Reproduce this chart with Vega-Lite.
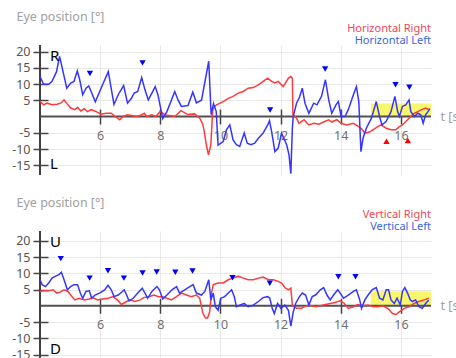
{
  "$schema": "https://vega.github.io/schema/vega-lite/v6.json",
  "background": "white",
  "padding": {"left": 11, "top": 10, "right": 0, "bottom": 0},
  "spacing": 19,
  "config": {
    "view": {"stroke": null},
    "font": "Noto Sans",
    "axis": {
      "labelFont": "Noto Sans",
      "titleFont": "Noto Sans",
      "labelFontSize": 12.5,
      "titleFontSize": 12.5,
      "titleFontWeight": "normal",
      "titleColor": "#a0a0a0",
      "tickColor": "#444444",
      "tickWidth": 1.5,
      "tickSize": 15,
      "domain": false,
      "grid": true,
      "gridColor": "#e9e9e9",
      "gridWidth": 1,
      "labelOverlap": false,
      "labelBound": false
    },
    "axisX": {"labelColor": "#707070", "labelPadding": 5, "labelFlush": false},
    "axisY": {"labelColor": "#555555", "labelPadding": 3},
    "title": {"offset": -36}
  },
  "datasets": {
    "hR": [
      {"t":4.0,"y":4.6},{"t":4.12,"y":3.6},{"t":4.24,"y":4.1},{"t":4.4,"y":3.6},{"t":4.57,"y":3.8},{"t":4.69,"y":4.1},{"t":4.8,"y":5.1},{"t":4.91,"y":3.8},{"t":5.02,"y":2.6},{"t":5.16,"y":2.1},{"t":5.25,"y":2.8},{"t":5.36,"y":1.7},{"t":5.47,"y":2.4},{"t":5.58,"y":1.5},{"t":5.7,"y":2.1},{"t":5.87,"y":1.5},{"t":6.03,"y":0.7},{"t":6.2,"y":1.0},{"t":6.37,"y":1.0},{"t":6.54,"y":-0.3},{"t":6.65,"y":-1.0},{"t":6.76,"y":0},{"t":6.91,"y":0.5},{"t":7.04,"y":0.3},{"t":7.21,"y":0},{"t":7.33,"y":0.3},{"t":7.47,"y":1.0},{"t":7.55,"y":0},{"t":7.72,"y":0.5},{"t":7.85,"y":0},{"t":8.0,"y":1.6},{"t":8.15,"y":0.5},{"t":8.36,"y":0.2},{"t":8.48,"y":0},{"t":8.69,"y":1.8},{"t":8.91,"y":0.6},{"t":9.14,"y":0.8},{"t":9.31,"y":-0.5},{"t":9.41,"y":-2.3},{"t":9.46,"y":-4.6},{"t":9.53,"y":-8.7},{"t":9.6,"y":-11.8},{"t":9.68,"y":-8.7},{"t":9.74,"y":1.5},{"t":9.76,"y":2.6},{"t":9.87,"y":3.6},{"t":10.09,"y":4.6},{"t":10.26,"y":5.6},{"t":10.42,"y":6.2},{"t":10.59,"y":7.2},{"t":10.76,"y":7.7},{"t":10.92,"y":8.7},{"t":11.09,"y":8.9},{"t":11.26,"y":9.7},{"t":11.42,"y":10.8},{"t":11.57,"y":11.8},{"t":11.7,"y":10.8},{"t":11.81,"y":10.3},{"t":11.92,"y":10.8},{"t":12.09,"y":9.2},{"t":12.26,"y":11.8},{"t":12.34,"y":12.3},{"t":12.39,"y":11.8},{"t":12.41,"y":0.5},{"t":12.53,"y":-0.5},{"t":12.61,"y":-2.1},{"t":12.78,"y":-1.0},{"t":12.94,"y":-2.6},{"t":13.1,"y":-2.1},{"t":13.27,"y":-2.4},{"t":13.43,"y":-1.7},{"t":13.6,"y":-1.0},{"t":13.7,"y":-1.7},{"t":13.87,"y":-1.0},{"t":14.01,"y":-2.1},{"t":14.2,"y":-2.6},{"t":14.42,"y":-2.1},{"t":14.58,"y":-3.0},{"t":14.69,"y":-3.8},{"t":14.8,"y":-5.1},{"t":14.96,"y":-4.8},{"t":15.07,"y":-4.1},{"t":15.23,"y":-3.1},{"t":15.34,"y":-2.6},{"t":15.51,"y":-3.6},{"t":15.67,"y":-4.1},{"t":15.83,"y":-4.1},{"t":15.95,"y":-3.1},{"t":16.05,"y":-2.6},{"t":16.22,"y":-1.0},{"t":16.33,"y":0},{"t":16.45,"y":1.0},{"t":16.56,"y":1.5},{"t":16.69,"y":2.1},{"t":16.82,"y":2.6},{"t":16.93,"y":2.1}
    ],
    "hL": [
      {"t":4.0,"y":12.3},{"t":4.12,"y":9.9},{"t":4.29,"y":9.9},{"t":4.4,"y":10.8},{"t":4.55,"y":13.8},{"t":4.65,"y":18.5},{"t":4.74,"y":14.9},{"t":4.89,"y":8.7},{"t":5.02,"y":10.3},{"t":5.13,"y":10.8},{"t":5.24,"y":14},{"t":5.32,"y":11.3},{"t":5.42,"y":6.7},{"t":5.53,"y":8.7},{"t":5.62,"y":9.4},{"t":5.7,"y":7.7},{"t":5.84,"y":4.5},{"t":6.03,"y":8.7},{"t":6.27,"y":13.8},{"t":6.46,"y":3.7},{"t":6.6,"y":6.7},{"t":6.78,"y":9.5},{"t":6.91,"y":4.1},{"t":7.04,"y":5.6},{"t":7.13,"y":7.2},{"t":7.25,"y":7.7},{"t":7.38,"y":12},{"t":7.49,"y":8.2},{"t":7.6,"y":5.1},{"t":7.72,"y":7.2},{"t":7.83,"y":9.2},{"t":7.92,"y":6.7},{"t":8.03,"y":1.7},{"t":8.08,"y":-0.6},{"t":8.22,"y":1.5},{"t":8.48,"y":7.7},{"t":8.59,"y":5.1},{"t":8.7,"y":3.1},{"t":8.92,"y":3.4},{"t":9.08,"y":7.5},{"t":9.2,"y":4.2},{"t":9.37,"y":5},{"t":9.61,"y":17},{"t":9.69,"y":0.6},{"t":9.77,"y":4},{"t":9.86,"y":1.5},{"t":9.92,"y":-8.8},{"t":10.09,"y":-7.7},{"t":10.2,"y":-4.1},{"t":10.31,"y":-2.6},{"t":10.42,"y":-7.2},{"t":10.53,"y":-8.7},{"t":10.64,"y":-9.2},{"t":10.79,"y":-5.1},{"t":10.89,"y":-8.2},{"t":11.01,"y":-8.7},{"t":11.14,"y":-8.2},{"t":11.26,"y":-6.7},{"t":11.42,"y":-5.1},{"t":11.57,"y":-2.6},{"t":11.63,"y":-1.3},{"t":11.7,"y":-4.6},{"t":11.81,"y":-10.8},{"t":11.92,"y":-9.7},{"t":12.03,"y":-5.1},{"t":12.2,"y":-8.7},{"t":12.28,"y":-11.8},{"t":12.34,"y":-17.6},{"t":12.39,"y":-3.6},{"t":12.42,"y":0},{"t":12.53,"y":4.1},{"t":12.63,"y":6},{"t":12.72,"y":8.7},{"t":12.81,"y":4.1},{"t":12.94,"y":1.0},{"t":13.1,"y":4.1},{"t":13.21,"y":3.6},{"t":13.36,"y":6.2},{"t":13.49,"y":11.3},{"t":13.6,"y":5.1},{"t":13.7,"y":1.0},{"t":13.84,"y":3.6},{"t":13.92,"y":4.6},{"t":14.01,"y":0},{"t":14.14,"y":0},{"t":14.25,"y":2.1},{"t":14.42,"y":6.7},{"t":14.52,"y":9.2},{"t":14.6,"y":4.6},{"t":14.67,"y":-10.8},{"t":14.74,"y":-6.7},{"t":14.85,"y":-3.6},{"t":15.02,"y":-0.5},{"t":15.18,"y":4.6},{"t":15.29,"y":0},{"t":15.37,"y":-2.6},{"t":15.51,"y":-1.5},{"t":15.67,"y":1.5},{"t":15.8,"y":6.2},{"t":15.89,"y":1.5},{"t":15.95,"y":0},{"t":16.05,"y":3.1},{"t":16.16,"y":3.6},{"t":16.27,"y":5.1},{"t":16.33,"y":1.5},{"t":16.45,"y":0},{"t":16.56,"y":1.0},{"t":16.66,"y":0.5},{"t":16.74,"y":-2.1},{"t":16.82,"y":0.5},{"t":16.9,"y":1.5},{"t":16.96,"y":2.4}
    ],
    "vR": [
      {"t":4.0,"y":4.4},{"t":4.12,"y":4.6},{"t":4.29,"y":4.6},{"t":4.44,"y":4.9},{"t":4.55,"y":3.9},{"t":4.67,"y":4.2},{"t":4.8,"y":4.9},{"t":4.93,"y":4.4},{"t":5.02,"y":3.3},{"t":5.16,"y":1.8},{"t":5.3,"y":2.3},{"t":5.47,"y":1.8},{"t":5.64,"y":2.1},{"t":5.75,"y":2.5},{"t":5.92,"y":1.8},{"t":6.09,"y":2.1},{"t":6.26,"y":2.3},{"t":6.43,"y":2.8},{"t":6.57,"y":1.8},{"t":6.71,"y":0.4},{"t":6.82,"y":1.0},{"t":6.99,"y":1.8},{"t":7.16,"y":1.3},{"t":7.33,"y":1.8},{"t":7.45,"y":2.5},{"t":7.62,"y":2.8},{"t":7.79,"y":3.3},{"t":7.94,"y":2.8},{"t":8.06,"y":2.8},{"t":8.22,"y":2.3},{"t":8.37,"y":1.8},{"t":8.54,"y":2.8},{"t":8.7,"y":3.9},{"t":8.87,"y":3.3},{"t":9.03,"y":2.8},{"t":9.2,"y":3.3},{"t":9.31,"y":2.3},{"t":9.42,"y":-2.4},{"t":9.5,"y":-3.8},{"t":9.57,"y":-3.8},{"t":9.64,"y":-1.9},{"t":9.7,"y":3.9},{"t":9.76,"y":6.5},{"t":9.92,"y":7.0},{"t":10.09,"y":7.0},{"t":10.26,"y":8.0},{"t":10.42,"y":8.5},{"t":10.59,"y":9.1},{"t":10.76,"y":8.5},{"t":10.92,"y":8.0},{"t":11.09,"y":8.0},{"t":11.26,"y":8.5},{"t":11.42,"y":8.8},{"t":11.59,"y":8.0},{"t":11.76,"y":8.0},{"t":11.92,"y":7.5},{"t":12.03,"y":7.0},{"t":12.14,"y":5.6},{"t":12.26,"y":4.9},{"t":12.34,"y":5.4},{"t":12.39,"y":0.2},{"t":12.53,"y":-0.8},{"t":12.7,"y":-0.8},{"t":12.78,"y":-0.3},{"t":12.94,"y":0.2},{"t":13.16,"y":-0.3},{"t":13.32,"y":0},{"t":13.49,"y":0.4},{"t":13.65,"y":0.7},{"t":13.81,"y":1.0},{"t":13.98,"y":1.5},{"t":14.12,"y":0.7},{"t":14.25,"y":-0.8},{"t":14.42,"y":-0.3},{"t":14.56,"y":0.4},{"t":14.74,"y":0},{"t":14.91,"y":0.2},{"t":15.07,"y":-0.3},{"t":15.23,"y":-0.3},{"t":15.4,"y":0},{"t":15.56,"y":-0.8},{"t":15.72,"y":-2.4},{"t":15.83,"y":-2.7},{"t":15.95,"y":-1.9},{"t":16.11,"y":-0.8},{"t":16.27,"y":-0.3},{"t":16.44,"y":0.7},{"t":16.6,"y":1.3},{"t":16.77,"y":1.8},{"t":16.93,"y":2.3}
    ],
    "vL": [
      {"t":4.0,"y":8.0},{"t":4.07,"y":6.5},{"t":4.18,"y":5.9},{"t":4.29,"y":7.0},{"t":4.4,"y":8.5},{"t":4.52,"y":9.1},{"t":4.63,"y":9.6},{"t":4.71,"y":10.3},{"t":4.8,"y":8.0},{"t":4.91,"y":4.9},{"t":5.02,"y":5.9},{"t":5.13,"y":6.5},{"t":5.25,"y":6.5},{"t":5.34,"y":3.9},{"t":5.42,"y":2.3},{"t":5.53,"y":4.4},{"t":5.64,"y":4.6},{"t":5.72,"y":2.3},{"t":5.83,"y":3.3},{"t":5.98,"y":3.9},{"t":6.15,"y":4.9},{"t":6.26,"y":6.3},{"t":6.37,"y":4.9},{"t":6.46,"y":2.8},{"t":6.6,"y":3.3},{"t":6.74,"y":4.4},{"t":6.8,"y":4.9},{"t":6.88,"y":3.3},{"t":6.96,"y":1.5},{"t":7.1,"y":2.3},{"t":7.25,"y":3.9},{"t":7.4,"y":5.4},{"t":7.49,"y":3.9},{"t":7.58,"y":2.3},{"t":7.72,"y":4.4},{"t":7.89,"y":5.9},{"t":7.97,"y":4.9},{"t":8.08,"y":2.1},{"t":8.22,"y":3.3},{"t":8.39,"y":4.9},{"t":8.54,"y":5.9},{"t":8.64,"y":3.9},{"t":8.81,"y":4.9},{"t":8.98,"y":5.9},{"t":9.09,"y":6.5},{"t":9.2,"y":3.9},{"t":9.37,"y":3.3},{"t":9.48,"y":4.4},{"t":9.61,"y":8.0},{"t":9.68,"y":1.8},{"t":9.76,"y":3.9},{"t":9.83,"y":-0.3},{"t":9.92,"y":-1.4},{"t":10.01,"y":2.3},{"t":10.14,"y":2.8},{"t":10.26,"y":3.9},{"t":10.37,"y":4.9},{"t":10.46,"y":2.8},{"t":10.53,"y":-0.3},{"t":10.64,"y":0.2},{"t":10.79,"y":0.7},{"t":10.92,"y":-0.3},{"t":11.09,"y":0.2},{"t":11.26,"y":1.3},{"t":11.42,"y":2.5},{"t":11.57,"y":2.8},{"t":11.64,"y":2.3},{"t":11.72,"y":-0.8},{"t":11.79,"y":-2.4},{"t":11.9,"y":0.7},{"t":12.01,"y":-0.8},{"t":12.14,"y":0.2},{"t":12.26,"y":-1.4},{"t":12.34,"y":-6.3},{"t":12.42,"y":-1.9},{"t":12.5,"y":0.7},{"t":12.61,"y":2.6},{"t":12.72,"y":3.9},{"t":12.83,"y":3.3},{"t":12.94,"y":0.2},{"t":13.05,"y":2.8},{"t":13.16,"y":3.3},{"t":13.32,"y":4.9},{"t":13.43,"y":5.6},{"t":13.54,"y":3.3},{"t":13.65,"y":1.8},{"t":13.76,"y":3.3},{"t":13.9,"y":4.9},{"t":13.98,"y":3.9},{"t":14.09,"y":2.3},{"t":14.25,"y":3.3},{"t":14.42,"y":4.4},{"t":14.52,"y":4.9},{"t":14.63,"y":1.8},{"t":14.69,"y":-0.8},{"t":14.8,"y":1.8},{"t":14.91,"y":3.3},{"t":15.04,"y":4.9},{"t":15.18,"y":5.6},{"t":15.29,"y":2.3},{"t":15.4,"y":1.8},{"t":15.51,"y":4.9},{"t":15.59,"y":4.9},{"t":15.67,"y":1.8},{"t":15.78,"y":0.7},{"t":15.87,"y":2.3},{"t":15.98,"y":0.2},{"t":16.05,"y":4.4},{"t":16.13,"y":5.6},{"t":16.22,"y":3.9},{"t":16.31,"y":1.8},{"t":16.38,"y":1.3},{"t":16.49,"y":1.8},{"t":16.6,"y":-0.3},{"t":16.71,"y":-0.8},{"t":16.82,"y":0.7},{"t":16.93,"y":1.8}
    ],
    "hMarks": [
      {"t":5.66,"y":13.2,"dir":"down"},{"t":7.41,"y":16.5,"dir":"down"},{"t":11.65,"y":2.0,"dir":"down"},{"t":13.48,"y":14.6,"dir":"down"},{"t":15.82,"y":9.8,"dir":"down"},{"t":16.28,"y":9.0,"dir":"down"},
      {"t":15.52,"y":-7.6,"dir":"up"},{"t":16.23,"y":-7.4,"dir":"up"},{"t":17.1,"y":-2.9,"dir":"up"}
    ],
    "vMarks": [
      {"t":4.69,"y":14.5,"dir":"down"},{"t":5.65,"y":8.5,"dir":"down"},{"t":6.26,"y":10.8,"dir":"down"},{"t":6.79,"y":8.5,"dir":"down"},{"t":7.41,"y":10.1,"dir":"down"},{"t":7.88,"y":10.4,"dir":"down"},{"t":8.5,"y":10.3,"dir":"down"},{"t":9.07,"y":10.7,"dir":"down"},{"t":10.4,"y":8.6,"dir":"down"},{"t":11.64,"y":6.9,"dir":"down"},{"t":13.92,"y":8.9,"dir":"down"},{"t":14.49,"y":8.9,"dir":"down"}
    ],
    "hRect": [{"t":15,"t2":17,"y":0,"y2":4}],
    "vRect": [{"t":15,"t2":17,"y":0,"y2":4.5}],
    "hLab": [{"t":4.33,"y":18.7,"label":"R"},{"t":4.33,"y":-14.6,"label":"L"}],
    "vLab": [{"t":4.33,"y":19.7,"label":"U"},{"t":4.33,"y":-13.3,"label":"D"}]
  },
  "vconcat": [
    {
      "width": 391,
      "height": 130,
      "title": {"text": "Horizontal Right", "subtitle": "Horizontal Left", "anchor": "end", "frame": "group", "color": "#f0465a", "subtitleColor": "#3c64dc", "fontSize": 11, "subtitleFontSize": 11, "fontWeight": "normal", "font": "Noto Sans", "subtitleFont": "Noto Sans", "offset": -36, "subtitlePadding": 1},
      "layer": [
        {
          "data": {"name": "hRect"},
          "mark": {"type": "rect", "color": "#f8f76c"},
          "encoding": {
            "x": {"field": "t", "type": "quantitative", "scale": {"domain": [4, 17], "nice": false, "zero": false},
                  "axis": {"title": "t [s]", "values": [6, 8, 10, 12, 14, 16], "tickCount": 20, "labelExpr": "'' + datum.value", "labelOverlap": false, "offset": -66, "titleX": 400, "titleY": 7.5, "titleAlign": "left", "titleBaseline": "middle", "titleAngle": 0}},
            "x2": {"field": "t2"},
            "y": {"field": "y", "type": "quantitative", "scale": {"domain": [-18, 22], "nice": false, "zero": false},
                  "axis": {"title": "Eye position [°]", "values": [-15, -10, -5, 5, 10, 15, 20], "tickCount": 20, "labelOverlap": false, "offset": -8, "labelExpr": "'' + datum.value", "titleAngle": 0, "titleX": -32, "titleY": -29, "titleAlign": "left", "titleBaseline": "middle"}},
            "y2": {"field": "y2"}
          }
        },
        {"data": {"values": [{}]}, "mark": {"type": "rule", "color": "#505050", "strokeWidth": 2}, "encoding": {"y": {"datum": 0, "type": "quantitative"}}},
        {"data": {"values": [{}]}, "mark": {"type": "rule", "color": "#404040", "strokeWidth": 2}, "encoding": {"x": {"datum": 4, "type": "quantitative"}}},
        {"data": {"name": "hR"}, "mark": {"type": "line", "color": "#ff3a3a", "strokeWidth": 1.5}, "encoding": {"x": {"field": "t", "type": "quantitative"}, "y": {"field": "y", "type": "quantitative"}}},
        {"data": {"name": "hL"}, "mark": {"type": "line", "color": "#3535ff", "strokeWidth": 1.5}, "encoding": {"x": {"field": "t", "type": "quantitative"}, "y": {"field": "y", "type": "quantitative"}}},
        {"data": {"name": "hMarks"}, "mark": {"type": "point", "filled": true, "opacity": 1, "size": 40, "clip": true},
         "encoding": {"x": {"field": "t", "type": "quantitative"}, "y": {"field": "y", "type": "quantitative"},
                      "shape": {"field": "dir", "type": "nominal", "scale": {"domain": ["down", "up"], "range": ["triangle-down", "triangle-up"]}, "legend": null},
                      "color": {"field": "dir", "type": "nominal", "scale": {"domain": ["down", "up"], "range": ["#0000ff", "#ff0000"]}, "legend": null}}},
        {"data": {"name": "hLab"}, "mark": {"type": "text", "fontSize": 15, "align": "left", "baseline": "middle", "color": "#000000", "font": "Noto Sans"},
         "encoding": {"x": {"field": "t", "type": "quantitative"}, "y": {"field": "y", "type": "quantitative"}, "text": {"field": "label"}}}
      ]
    },
    {
      "width": 391,
      "height": 127.4,
      "title": {"text": "Vertical Right", "subtitle": "Vertical Left", "anchor": "end", "frame": "group", "color": "#f0465a", "subtitleColor": "#3c64dc", "fontSize": 11, "subtitleFontSize": 11, "fontWeight": "normal", "font": "Noto Sans", "subtitleFont": "Noto Sans", "offset": -36, "subtitlePadding": 1},
      "layer": [
        {
          "data": {"name": "vRect"},
          "mark": {"type": "rect", "color": "#f8f76c"},
          "encoding": {
            "x": {"field": "t", "type": "quantitative", "scale": {"domain": [4, 17], "nice": false, "zero": false},
                  "axis": {"title": "t [s]", "values": [6, 8, 10, 12, 14, 16], "tickCount": 20, "labelExpr": "'' + datum.value", "labelOverlap": false, "offset": -60.15, "titleX": 400, "titleY": 7.5, "titleAlign": "left", "titleBaseline": "middle", "titleAngle": 0}},
            "x2": {"field": "t2"},
            "y": {"field": "y", "type": "quantitative", "scale": {"domain": [-16.2, 23], "nice": false, "zero": false},
                  "axis": {"title": "Eye position [°]", "values": [-15, -10, -5, 5, 10, 15, 20], "tickCount": 20, "labelOverlap": false, "offset": -8, "labelExpr": "'' + datum.value", "titleAngle": 0, "titleX": -32, "titleY": -29, "titleAlign": "left", "titleBaseline": "middle"}},
            "y2": {"field": "y2"}
          }
        },
        {"data": {"values": [{}]}, "mark": {"type": "rule", "color": "#505050", "strokeWidth": 2}, "encoding": {"y": {"datum": 0, "type": "quantitative"}}},
        {"data": {"values": [{}]}, "mark": {"type": "rule", "color": "#404040", "strokeWidth": 2}, "encoding": {"x": {"datum": 4, "type": "quantitative"}}},
        {"data": {"name": "vR"}, "mark": {"type": "line", "color": "#ff3a3a", "strokeWidth": 1.5}, "encoding": {"x": {"field": "t", "type": "quantitative"}, "y": {"field": "y", "type": "quantitative"}}},
        {"data": {"name": "vL"}, "mark": {"type": "line", "color": "#3535ff", "strokeWidth": 1.5}, "encoding": {"x": {"field": "t", "type": "quantitative"}, "y": {"field": "y", "type": "quantitative"}}},
        {"data": {"name": "vMarks"}, "mark": {"type": "point", "filled": true, "opacity": 1, "size": 40, "clip": true},
         "encoding": {"x": {"field": "t", "type": "quantitative"}, "y": {"field": "y", "type": "quantitative"},
                      "shape": {"field": "dir", "type": "nominal", "scale": {"domain": ["down", "up"], "range": ["triangle-down", "triangle-up"]}, "legend": null},
                      "color": {"field": "dir", "type": "nominal", "scale": {"domain": ["down", "up"], "range": ["#0000ff", "#ff0000"]}, "legend": null}}},
        {"data": {"name": "vLab"}, "mark": {"type": "text", "fontSize": 15, "align": "left", "baseline": "middle", "color": "#000000", "font": "Noto Sans"},
         "encoding": {"x": {"field": "t", "type": "quantitative"}, "y": {"field": "y", "type": "quantitative"}, "text": {"field": "label"}}}
      ]
    }
  ]
}
